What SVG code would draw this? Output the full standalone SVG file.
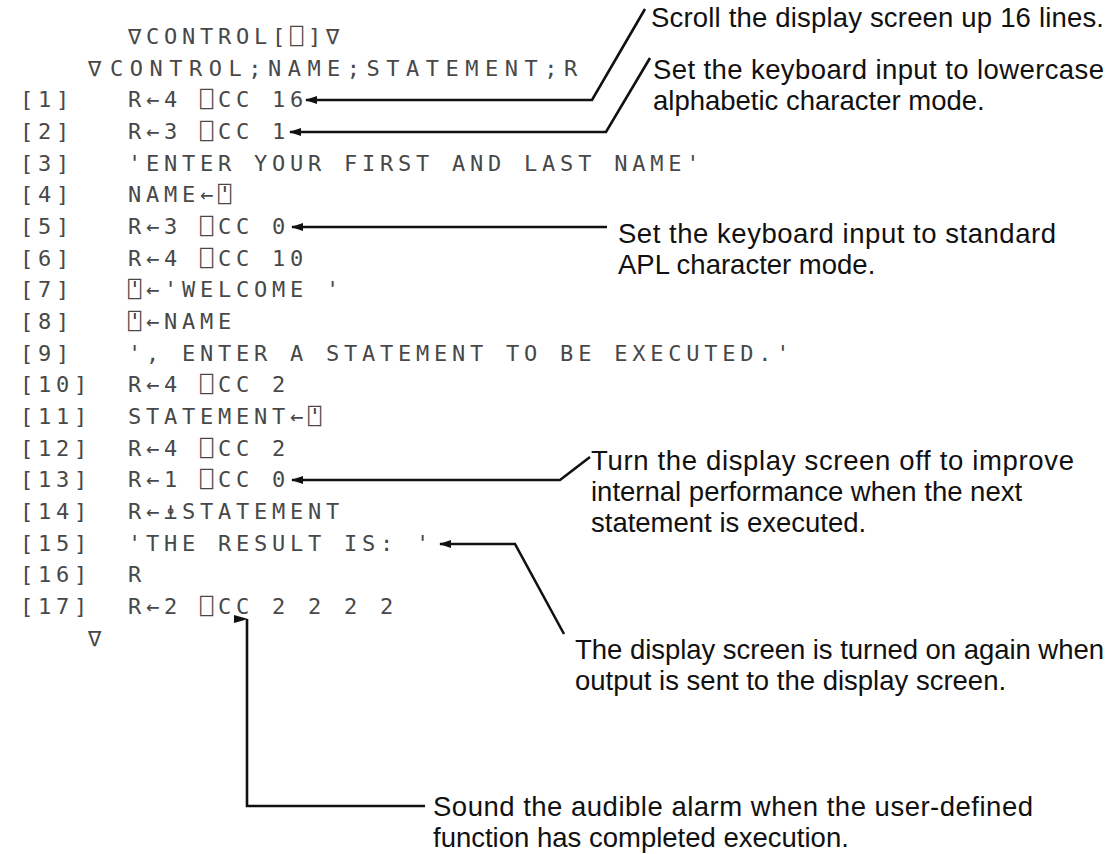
<svg xmlns="http://www.w3.org/2000/svg" width="1112" height="854" viewBox="0 0 1112 854">
<defs>
<style>
.code{font-family:"DejaVu Sans Mono","Liberation Mono",monospace;font-size:22px;fill:#484848;letter-spacing:4.76px}
.note{font-family:"Liberation Sans","Arial",sans-serif;font-size:27.5px;fill:#111}
.ln{stroke:#111;stroke-width:2.6;fill:none}
</style>
<marker id="ah" viewBox="0 0 12 8" refX="1" refY="4" markerWidth="12" markerHeight="8" markerUnits="userSpaceOnUse" orient="auto">
<path d="M0,4 L12,0 L12,8 Z" fill="#111"/>
</marker>
<marker id="au" viewBox="0 0 8 14" refX="4" refY="1" markerWidth="8" markerHeight="14" markerUnits="userSpaceOnUse" orient="auto">
<path d="M4,0 L8,14 L0,14 Z" fill="#111"/>
</marker>
</defs>
<rect width="1112" height="854" fill="#fff"/>
<g id="code">
<text class="code" x="128" y="44">∇CONTROL[⎕]∇</text>
<text class="code" x="88" y="76">∇</text>
<text class="code" x="110" y="76" textLength="472">CONTROL;NAME;STATEMENT;R</text>
<text class="code" x="20" y="107">[1]</text><text class="code" x="128" y="107">R←4 ⎕CC 16</text>
<text class="code" x="20" y="139">[2]</text><text class="code" x="128" y="139">R←3 ⎕CC 1</text>
<text class="code" x="20" y="171">[3]</text><text class="code" x="128" y="171">'ENTER YOUR FIRST AND LAST NAME'</text>
<text class="code" x="20" y="202">[4]</text><text class="code" x="128" y="202">NAME←⍞</text>
<text class="code" x="20" y="234">[5]</text><text class="code" x="128" y="234">R←3 ⎕CC 0</text>
<text class="code" x="20" y="266">[6]</text><text class="code" x="128" y="266">R←4 ⎕CC 10</text>
<text class="code" x="20" y="297">[7]</text><text class="code" x="128" y="297">⍞←'WELCOME '</text>
<text class="code" x="20" y="329">[8]</text><text class="code" x="128" y="329">⍞←NAME</text>
<text class="code" x="20" y="361">[9]</text><text class="code" x="128" y="361">', ENTER A STATEMENT TO BE EXECUTED.'</text>
<text class="code" x="20" y="392">[10]</text><text class="code" x="128" y="392">R←4 ⎕CC 2</text>
<text class="code" x="20" y="424">[11]</text><text class="code" x="128" y="424">STATEMENT←⍞</text>
<text class="code" x="20" y="456">[12]</text><text class="code" x="128" y="456">R←4 ⎕CC 2</text>
<text class="code" x="20" y="487">[13]</text><text class="code" x="128" y="487">R←1 ⎕CC 0</text>
<text class="code" x="20" y="519">[14]</text><text class="code" x="128" y="519">R←⍎STATEMENT</text>
<text class="code" x="20" y="551">[15]</text><text class="code" x="128" y="551">'THE RESULT IS: '</text>
<text class="code" x="20" y="582">[16]</text><text class="code" x="128" y="582">R</text>
<text class="code" x="20" y="614">[17]</text><text class="code" x="128" y="614">R←2 ⎕CC 2 2 2 2</text>
<text class="code" x="88" y="646">∇</text>
</g>
<g id="note-scroll"><text class="note" x="651" y="27" textLength="453">Scroll the display screen up 16 lines.</text></g>
<g id="note-lowercase"><text class="note" x="653" y="79" textLength="451">Set the keyboard input to lowercase</text><text class="note" x="653" y="110">alphabetic character mode.</text></g>
<g id="note-standard"><text class="note" x="618" y="243" textLength="438">Set the keyboard input to standard</text><text class="note" x="618" y="274">APL character mode.</text></g>
<g id="note-off"><text class="note" x="591" y="470" textLength="483">Turn the display screen off to improve</text><text class="note" x="591" y="501">internal performance when the next</text><text class="note" x="591" y="532">statement is executed.</text></g>
<g id="note-on"><text class="note" x="575" y="659" textLength="529">The display screen is turned on again when</text><text class="note" x="575" y="690">output is sent to the display screen.</text></g>
<g id="note-alarm"><text class="note" x="433" y="816" textLength="600">Sound the audible alarm when the user-defined</text><text class="note" x="433" y="847">function has completed execution.</text></g>
<g id="connectors">
<polyline class="ln" marker-start="url(#ah)" points="306,100 592,100 645,9"/>
<polyline class="ln" marker-start="url(#ah)" points="290,132 606,132 650,58"/>
<polyline class="ln" marker-start="url(#ah)" points="292,227 607,227"/>
<polyline class="ln" marker-start="url(#ah)" points="292,480 560,480 590,457"/>
<polyline class="ln" marker-start="url(#ah)" points="440,544 515,544 564,634"/>
<polyline class="ln" marker-start="url(#au)" points="247,619 247,806 425,806"/>
</g>
</svg>
